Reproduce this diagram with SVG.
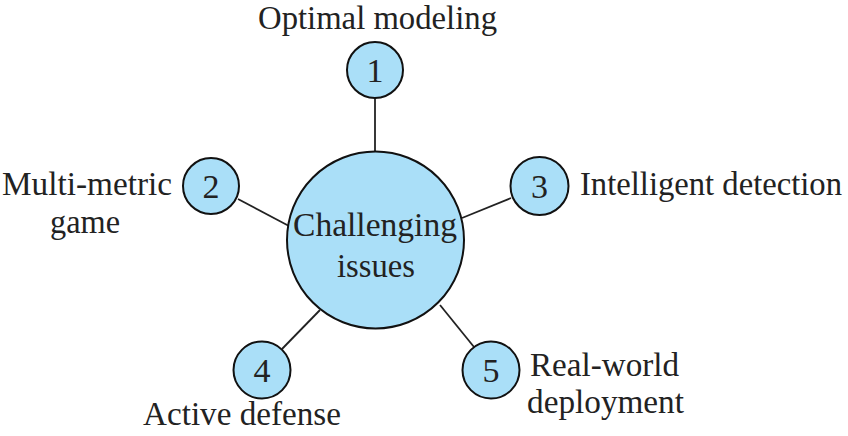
<svg xmlns="http://www.w3.org/2000/svg" width="848" height="436" viewBox="0 0 848 436">
<style>
.n{fill:#aadff8;stroke:#111;stroke-width:2}
.c{stroke:#222;stroke-width:1.8;fill:none}
text{font-family:"Liberation Serif","Times New Roman",serif;font-size:34px;fill:#222}
.m{text-anchor:middle}
</style>
<rect width="848" height="436" fill="#fff"/>
<g id="connectors">
<line class="c" x1="375" y1="98" x2="375" y2="152"/>
<line class="c" x1="238" y1="199" x2="289" y2="226"/>
<line class="c" x1="511" y1="198" x2="462" y2="218"/>
<line class="c" x1="282" y1="349" x2="320" y2="310"/>
<line class="c" x1="474" y1="347" x2="440" y2="305"/>
</g>
<g id="center">
<circle class="n" cx="375.5" cy="240" r="88.5"/>
<text x="293" y="236" textLength="164" lengthAdjust="spacingAndGlyphs">Challenging</text>
<text x="337" y="277" textLength="78" lengthAdjust="spacingAndGlyphs">issues</text>
</g>
<g id="node1">
<circle class="n" cx="375" cy="70" r="28"/>
<text class="m" x="375" y="82">1</text>
<text x="258" y="29" textLength="239" lengthAdjust="spacingAndGlyphs">Optimal modeling</text>
</g>
<g id="node2">
<circle class="n" cx="211" cy="186" r="28"/>
<text class="m" x="211" y="198">2</text>
<text x="2" y="195" textLength="170" lengthAdjust="spacingAndGlyphs">Multi-metric</text>
<text x="50" y="233" textLength="70" lengthAdjust="spacingAndGlyphs">game</text>
</g>
<g id="node3">
<circle class="n" cx="539.5" cy="186" r="29"/>
<text class="m" x="539.5" y="198">3</text>
<text x="580" y="195" style="font-size:33px" textLength="262" lengthAdjust="spacingAndGlyphs">Intelligent detection</text>
</g>
<g id="node4">
<circle class="n" cx="262" cy="370" r="28.5"/>
<text class="m" x="262" y="382">4</text>
<text x="143" y="425" textLength="198" lengthAdjust="spacingAndGlyphs">Active defense</text>
</g>
<g id="node5">
<circle class="n" cx="491" cy="370" r="28.5"/>
<text class="m" x="491" y="382">5</text>
<text x="530" y="376" textLength="149" lengthAdjust="spacingAndGlyphs">Real-world</text>
<text x="527" y="413" textLength="157" lengthAdjust="spacingAndGlyphs">deployment</text>
</g>
</svg>
